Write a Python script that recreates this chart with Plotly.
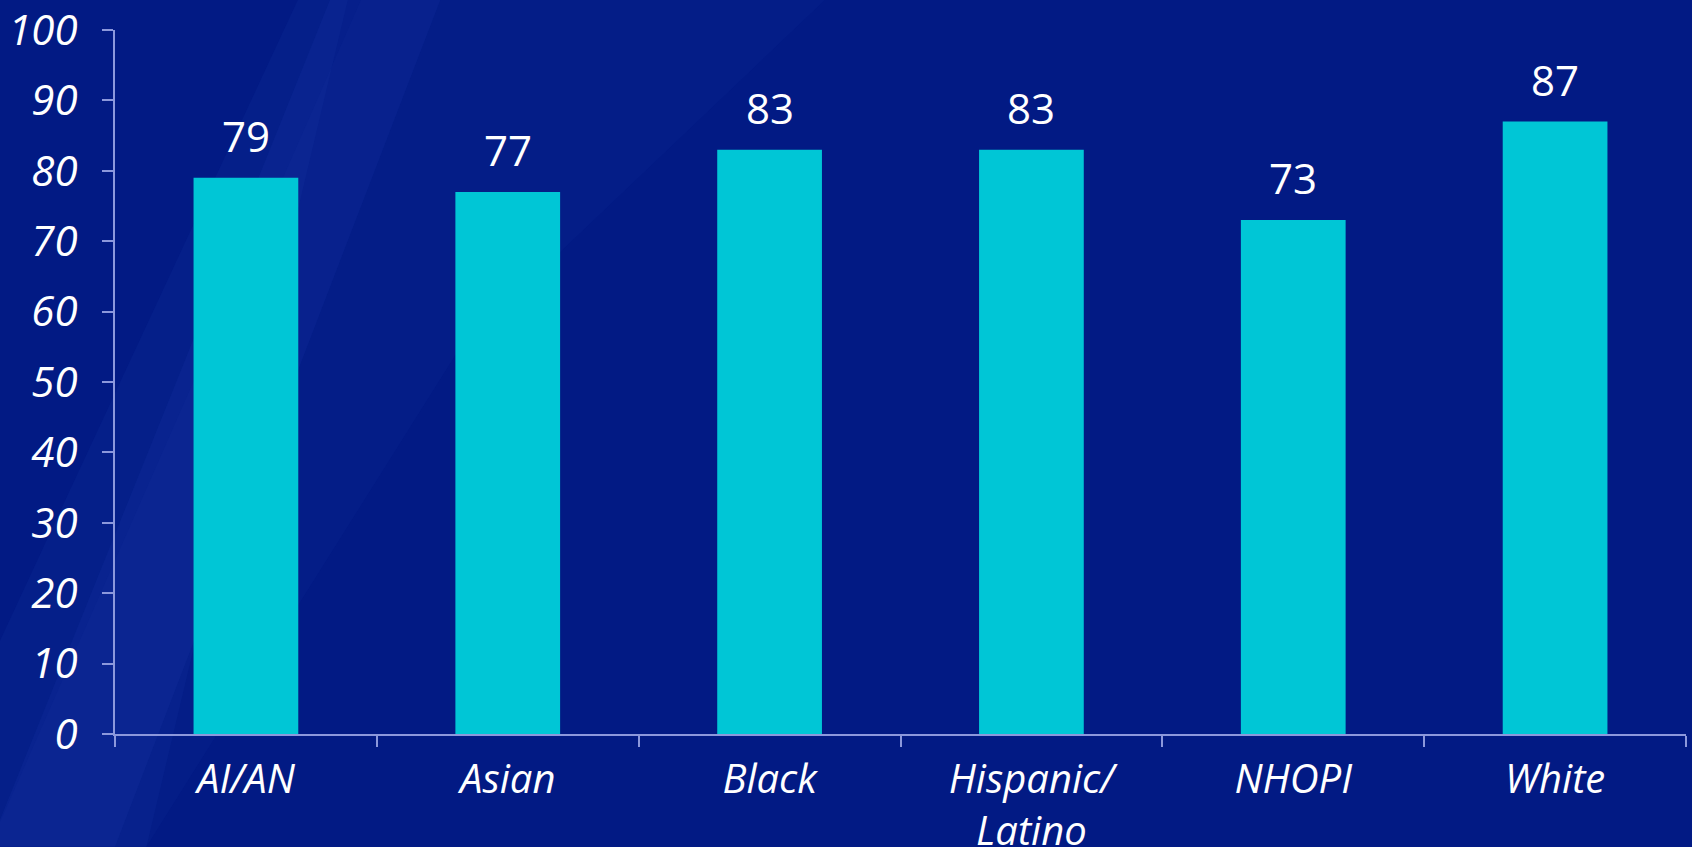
import plotly.graph_objects as go

# Share of each group (percent)
categories = ["AI/AN", "Asian", "Black", "Hispanic/<br>Latino", "NHOPI", "White"]
values = [79, 77, 83, 83, 73, 87]
y_ticks = [0, 10, 20, 30, 40, 50, 60, 70, 80, 90, 100]

BG = "#021a84"
BAR = "#00c6d6"
AXIS = "#8c98dc"
FONT = "Open Sans, Noto Sans, sans-serif"

fig = go.Figure(
    go.Bar(
        x=categories,
        y=values,
        marker=dict(color=BAR, line=dict(width=0)),
        width=0.4,
        hoverinfo="skip",
    )
)

# value labels above each bar
for c, v in zip(categories, values):
    fig.add_annotation(
        x=c, y=v, text=str(v), showarrow=False,
        yanchor="bottom", yshift=12,
        font=dict(family=FONT, size=42, color="white"),
    )

# soft lighter diagonal sweeps across the left of the backdrop
fig.add_shape(type="path", xref="paper", yref="paper",
              path="M -0.08 -0.16 L 0.00 -0.16 L 0.21 1.06 L 0.14 1.06 Z",
              fillcolor="rgba(40,75,190,0.12)", line=dict(width=0), layer="below")
fig.add_shape(type="path", xref="paper", yref="paper",
              path="M -0.08 0.10 L -0.08 -0.16 L 0.02 -0.16 L 0.15 1.06 L 0.12 1.06 Z",
              fillcolor="rgba(40,75,190,0.10)", line=dict(width=0), layer="below")
fig.add_shape(type="path", xref="paper", yref="paper",
              path="M 0.16 1.06 L 0.46 1.06 L 0.22 0.55 L 0.02 -0.16 L -0.08 -0.16 Z",
              fillcolor="rgba(30,60,170,0.10)", line=dict(width=0), layer="below")

fig.update_layout(
    width=1692,
    height=847,
    margin=dict(l=115, r=6, t=30, b=113),
    paper_bgcolor=BG,
    plot_bgcolor="rgba(0,0,0,0)",
    showlegend=False,
    font=dict(family=FONT, color="white"),
    xaxis=dict(
        showgrid=False,
        showline=True, linecolor=AXIS, linewidth=2,
        ticks="outside", ticklen=11, tickcolor=AXIS, tickwidth=2,
        tickson="boundaries",
        tickfont=dict(family=FONT, size=40, color="white", style="italic"),
        ticklabelstandoff=9,
        automargin=False,
        fixedrange=True,
    ),
    yaxis=dict(
        range=[0, 100],
        tickvals=y_ticks,
        showgrid=False, zeroline=False,
        showline=True, linecolor=AXIS, linewidth=2,
        ticks="outside", ticklen=11, tickcolor=AXIS, tickwidth=2,
        tickfont=dict(family=FONT, size=42, color="white", style="italic"),
        ticklabelstandoff=16,
        ticklabeloverflow="allow",
        automargin=False,
        fixedrange=True,
    ),
)

fig.write_html("out.html")
